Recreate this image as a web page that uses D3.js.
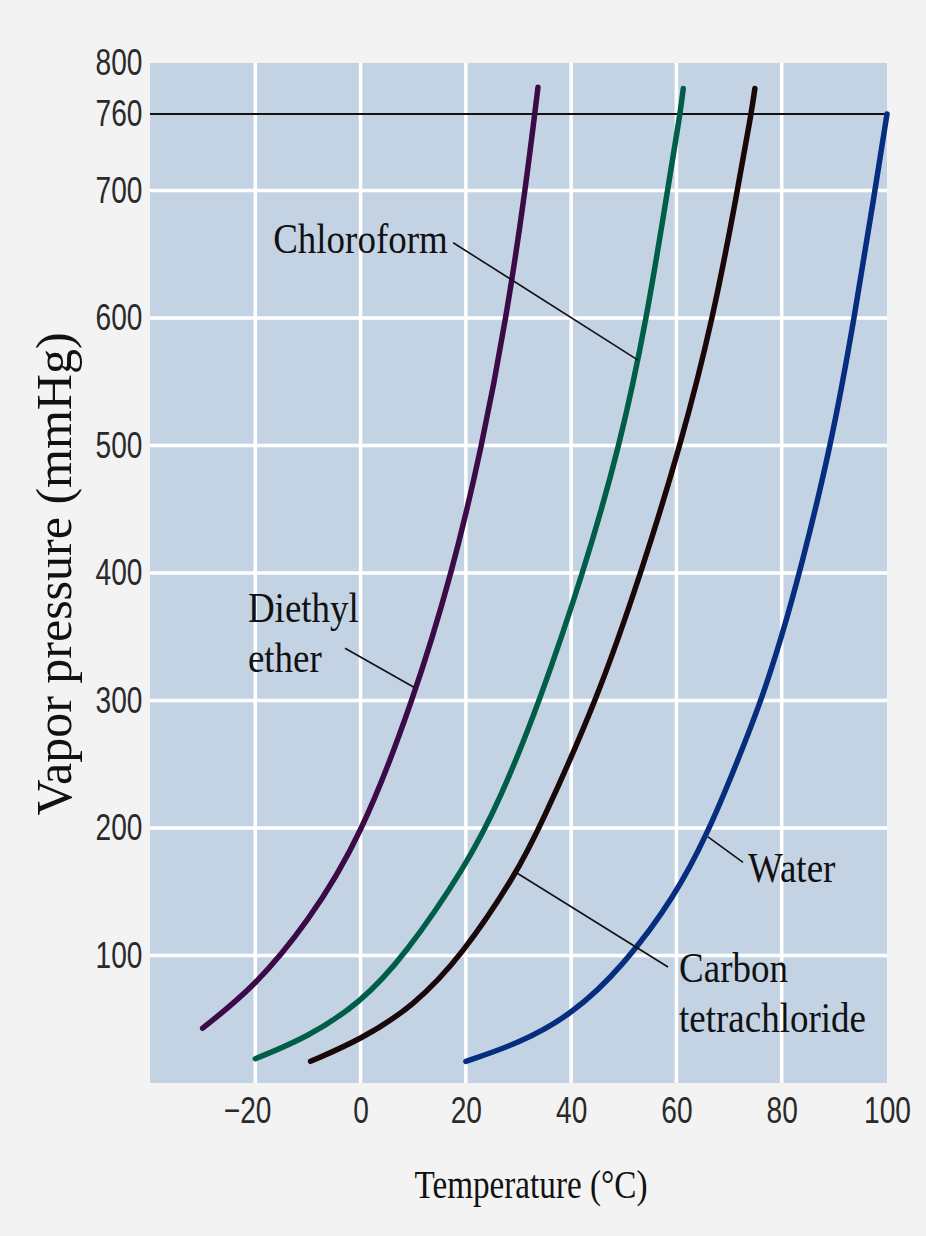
<!DOCTYPE html>
<html><head><meta charset="utf-8">
<script src="https://cdn.jsdelivr.net/npm/d3@7"></script>
<style>
html,body{margin:0;padding:0;background:#f4f3f3;}
svg{display:block;}
</style></head><body>
<svg id="chart" width="926" height="1236"></svg>
<script>
// ---------- data ----------
const xTicks = [-20, 0, 20, 40, 60, 80, 100];
const xGrid = [-20, 0, 20, 40, 60, 80];
const yTicks = [100, 200, 300, 400, 500, 600, 700, 760, 800];
const yGrid = [100, 200, 300, 400, 500, 600, 700];
const atmosphere = 760;

const etherT = [-30, -20, -10, 0, 10, 17.4, 23.1, 27.7, 31.3, 33.7];
const etherP = [43, 76, 126, 192, 300, 400, 500, 600, 700, 781];

const chloroformT = [-20, -10, 0, 8.4, 20, 26.5, 34.1, 42.3, 49.3, 54.4, 58.3, 60.7, 61.3];
const chloroformP = [19, 36, 63, 100, 170, 222, 300, 400, 500, 600, 700, 760, 780];

const ccl4T = [-9.5, 0, 10, 19.3, 29.7, 34, 44.9, 53.3, 60.8, 67, 71.6, 74.2, 74.9];
const ccl4P = [17, 34, 60, 100, 165, 200, 300, 400, 500, 600, 700, 760, 780];

const waterT = [20, 30, 40, 50, 60, 66, 70, 76, 80, 83.6, 89.4, 93.8, 97.6, 100];
const waterP = [17, 31, 53, 92, 148, 197, 236, 298, 350, 403, 500, 600, 697, 760];

const seriesNames = ["Diethyl ether", "Chloroform", "Carbon tetrachloride", "Water"];

// ---------- layout / style ----------
const W = 926, H = 1236;
const colors = ["#3b0b47", "#005e48", "#1a0808", "#062d7e"];
const svg = d3.select("#chart");
const x = d3.scaleLinear().domain([-40, 100]).range([150, 887]);
const y = d3.scaleLinear().domain([0, 800]).range([1083, 63]);

svg.append("rect").attr("width", W).attr("height", H).attr("fill", "#f4f3f3");
svg.append("rect")
  .attr("x", x(-40)).attr("y", y(800))
  .attr("width", x(100) - x(-40)).attr("height", y(0) - y(800))
  .attr("fill", "#c4d3e4");

// grid
svg.append("g").selectAll("line").data(xGrid).enter().append("line")
  .attr("x1", d => x(d)).attr("x2", d => x(d))
  .attr("y1", y(0)).attr("y2", y(800))
  .attr("stroke", "#ffffff").attr("stroke-width", 3.5);
svg.append("g").selectAll("line").data(yGrid).enter().append("line")
  .attr("x1", x(-40)).attr("x2", x(100))
  .attr("y1", d => y(d)).attr("y2", d => y(d))
  .attr("stroke", "#ffffff").attr("stroke-width", 3.5);

// 760 mmHg line
svg.append("line")
  .attr("x1", x(-40)).attr("x2", x(100))
  .attr("y1", y(atmosphere)).attr("y2", y(atmosphere))
  .attr("stroke", "#111").attr("stroke-width", 2);

// axes
const fmt = d => d < 0 ? "\u2212" + Math.abs(d) : String(d);
const yAxis = svg.append("g").attr("transform", `translate(${x(-40)},0)`)
  .call(d3.axisLeft(y).tickValues(yTicks).tickSize(0).tickPadding(10).tickFormat(fmt));
const xAxis = svg.append("g").attr("transform", `translate(0,${y(0)})`)
  .call(d3.axisBottom(x).tickValues(xTicks).tickSize(0).tickPadding(14).tickFormat(fmt));
[yAxis, xAxis].forEach(a => {
  a.select(".domain").remove();
  a.selectAll("text")
    .attr("font-family", "'Liberation Sans', Arial, sans-serif")
    .attr("font-size", 37).attr("fill", "#2a2a2a")
    .attr("transform", "scale(0.76,1)");
});
// center the digits of negative labels (minus hangs to the left)
xAxis.selectAll("text").each(function(d) {
  if (d < 0) {
    const full = this.getComputedTextLength();
    const t = d3.select(this);
    const txt = t.text();
    t.text(String(Math.abs(d)));
    const digits = this.getComputedTextLength();
    t.text(txt);
    t.attr("dx", -(full - digits) / 2);
  }
});

// curves
const line = d3.line().x(d => x(d[0])).y(d => y(d[1])).curve(d3.curveBasis);
const series = [
  d3.zip(etherT, etherP),
  d3.zip(chloroformT, chloroformP),
  d3.zip(ccl4T, ccl4P),
  d3.zip(waterT, waterP)
];
svg.append("g").selectAll("path").data(series).enter().append("path")
  .attr("d", line)
  .attr("fill", "none")
  .attr("stroke", (d, i) => colors[i])
  .attr("stroke-width", 5.5)
  .attr("stroke-linecap", "round")
  .attr("stroke-linejoin", "round");

// annotations (data coordinates)
const annotations = [
  { lines: ["Chloroform"], at: [-16.6, 651], from: [17.6, 659], to: [52.7, 567] },
  { lines: ["Diethyl", "ether"], at: [-21.4, 361.6], from: [-2.95, 341], to: [10.3, 310] },
  { lines: ["Water"], at: [73.6, 157.6], from: [72.65, 173], to: [66, 193] },
  { lines: ["Carbon", "tetrachloride"], at: [60.5, 79], from: [58.4, 91], to: [29.7, 164.7] }
];
const ann = svg.append("g");
annotations.forEach(a => {
  ann.append("line")
    .attr("x1", x(a.from[0])).attr("y1", y(a.from[1]))
    .attr("x2", x(a.to[0])).attr("y2", y(a.to[1]))
    .attr("stroke", "#111").attr("stroke-width", 1.6);
  const g = ann.append("g")
    .attr("transform", `translate(${x(a.at[0])},${y(a.at[1])}) scale(0.86,1)`);
  a.lines.forEach((l, i) => {
    g.append("text").attr("x", 0).attr("y", i * 50)
      .attr("font-family", "'Liberation Serif', 'Times New Roman', serif")
      .attr("font-size", 43).attr("fill", "#111").text(l);
  });
});

// axis titles
svg.append("text")
  .attr("transform", `translate(71,574) rotate(-90)`)
  .attr("text-anchor", "middle")
  .attr("font-family", "'Liberation Serif', 'Times New Roman', serif")
  .attr("font-size", 50).attr("fill", "#111")
  .text("Vapor pressure (mmHg)");
svg.append("g").attr("transform", "translate(531,1198) scale(0.83,1)")
  .append("text")
  .attr("text-anchor", "middle")
  .attr("font-family", "'Liberation Serif', 'Times New Roman', serif")
  .attr("font-size", 40).attr("fill", "#111")
  .text("Temperature (\u00B0C)");
</script>
</body></html>
